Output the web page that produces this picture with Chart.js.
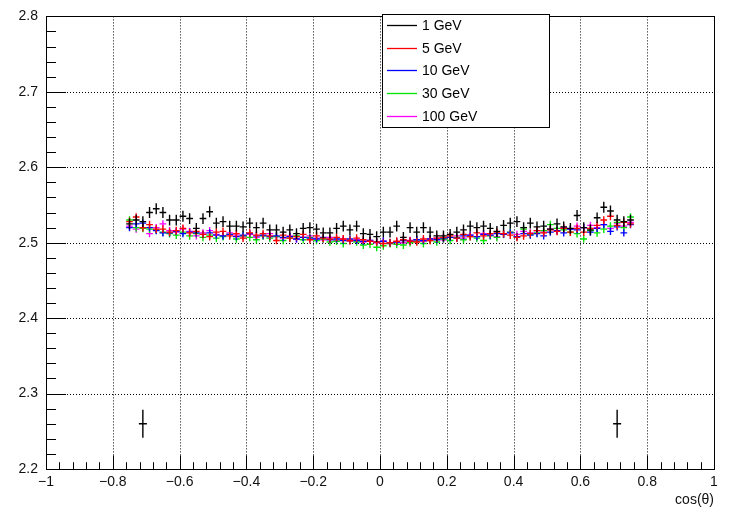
<!DOCTYPE html>
<html lang="en">
<head>
    <meta charset="UTF-8">
    <title>cos(θ) profile</title>
    <script src="https://cdn.jsdelivr.net/npm/chart.js"></script>
    <style>
        body {
            margin: 0;
            background: #ffffff;
        }
        #profile {
            display: block;
        }
    </style>
</head>
<body>
    <canvas id="profile" width="729" height="509"></canvas>

    <script>
        // bin centres in cos(theta)
        const cosBins = [
            -0.75, -0.73, -0.71, -0.69, -0.67, -0.65, -0.63, -0.61, -0.59, -0.57,
            -0.55, -0.53, -0.51, -0.49, -0.47, -0.45, -0.43, -0.41, -0.39, -0.37,
            -0.35, -0.33, -0.31, -0.29, -0.27, -0.25, -0.23, -0.21, -0.19, -0.17,
            -0.15, -0.13, -0.11, -0.09, -0.07, -0.05, -0.03, -0.01, 0.01, 0.03,
            0.05, 0.07, 0.09, 0.11, 0.13, 0.15, 0.17, 0.19, 0.21, 0.23,
            0.25, 0.27, 0.29, 0.31, 0.33, 0.35, 0.37, 0.39, 0.41, 0.43,
            0.45, 0.47, 0.49, 0.51, 0.53, 0.55, 0.57, 0.59, 0.61, 0.63,
            0.65, 0.67, 0.69, 0.71, 0.73, 0.75
        ];

        const seriesLabels = ['1 GeV', '5 GeV', '10 GeV', '30 GeV', '100 GeV'];
        const seriesColors = ['#000000', '#ff0000', '#0000ff', '#00e600', '#ff00ff'];
        const binHalfWidth = 0.01;
        const seriesYErr = [0.0072, 0.0052, 0.0048, 0.0052, 0.0048];

        const values1GeV = [
            2.525, 2.530, 2.528, 2.540, 2.545, 2.540, 2.530, 2.530, 2.535, 2.532,
            2.519, 2.532, 2.541, 2.526, 2.528, 2.522, 2.522, 2.521, 2.526, 2.520,
            2.526, 2.517, 2.517, 2.514, 2.517, 2.512, 2.519, 2.520, 2.518, 2.513,
            2.513, 2.519, 2.522, 2.517, 2.522, 2.512, 2.511, 2.508, 2.514, 2.514,
            2.522, 2.507, 2.520, 2.514, 2.520, 2.514, 2.509, 2.509, 2.511, 2.514,
            2.517, 2.522, 2.520, 2.522, 2.519, 2.515, 2.523, 2.526, 2.528, 2.520,
            2.526, 2.521, 2.522, 2.518, 2.525, 2.521, 2.519, 2.536, 2.520, 2.517,
            2.533, 2.547, 2.542, 2.530, 2.528, 2.530
        ];
        const values5GeV = [
            2.528, 2.534, 2.520, 2.524, 2.518, 2.518, 2.514, 2.516, 2.519, 2.513,
            2.515, 2.511, 2.508, 2.514, 2.515, 2.509, 2.512, 2.506, 2.513, 2.510,
            2.512, 2.509, 2.503, 2.510, 2.506, 2.508, 2.511, 2.504, 2.509, 2.506,
            2.505, 2.507, 2.505, 2.503, 2.506, 2.504, 2.502, 2.501, 2.499, 2.500,
            2.502, 2.504, 2.502, 2.501, 2.505, 2.503, 2.506, 2.507, 2.509, 2.506,
            2.511, 2.508, 2.513, 2.509, 2.512, 2.514, 2.512, 2.510, 2.507, 2.509,
            2.512, 2.516, 2.513, 2.517, 2.515, 2.519, 2.514, 2.519, 2.514, 2.519,
            2.523, 2.530, 2.535, 2.523, 2.527, 2.525
        ];
        const values10GeV = [
            2.520, 2.525, 2.526, 2.520, 2.516, 2.513, 2.513, 2.515, 2.512, 2.514,
            2.513, 2.511, 2.513, 2.510, 2.509, 2.511, 2.508, 2.510, 2.512, 2.509,
            2.510, 2.508, 2.509, 2.507, 2.508, 2.505, 2.507, 2.506, 2.505, 2.507,
            2.504, 2.505, 2.503, 2.505, 2.503, 2.502, 2.503, 2.501, 2.502, 2.500,
            2.501, 2.503, 2.502, 2.504, 2.503, 2.505, 2.504, 2.506, 2.507, 2.506,
            2.509, 2.510, 2.508, 2.511, 2.510, 2.512, 2.511, 2.513, 2.508, 2.512,
            2.510, 2.512, 2.509, 2.514, 2.516, 2.513, 2.518, 2.517, 2.520, 2.514,
            2.519, 2.524, 2.515, 2.521, 2.513, 2.524
        ];
        const values30GeV = [
            2.530, 2.520, 2.519, 2.518, 2.517, 2.514, 2.512, 2.510, 2.514, 2.509,
            2.512, 2.507, 2.510, 2.506, 2.508, 2.511, 2.505, 2.509, 2.507, 2.504,
            2.509, 2.506, 2.508, 2.503, 2.506, 2.509, 2.504, 2.507, 2.503, 2.505,
            2.501, 2.502, 2.499, 2.503, 2.501, 2.497, 2.498, 2.494, 2.496, 2.499,
            2.498, 2.497, 2.500, 2.502, 2.499, 2.503, 2.501, 2.505, 2.503, 2.507,
            2.504, 2.508, 2.506, 2.503, 2.509, 2.507, 2.511, 2.514, 2.508, 2.518,
            2.511, 2.513, 2.516, 2.524, 2.519, 2.517, 2.514, 2.512, 2.505, 2.516,
            2.513, 2.518, 2.522, 2.527, 2.520, 2.534
        ];
        const values100GeV = [
            2.522, 2.518, 2.520, 2.512, 2.520, 2.525, 2.516, 2.514, 2.518, 2.515,
            2.509, 2.513, 2.516, 2.511, 2.509, 2.513, 2.510, 2.508, 2.511, 2.507,
            2.509, 2.512, 2.508, 2.506, 2.509, 2.505, 2.507, 2.509, 2.506, 2.504,
            2.507, 2.503, 2.505, 2.502, 2.504, 2.501, 2.503, 2.500, 2.502, 2.499,
            2.501, 2.500, 2.503, 2.504, 2.502, 2.505, 2.506, 2.504, 2.507, 2.509,
            2.506, 2.510, 2.508, 2.512, 2.510, 2.508, 2.512, 2.514, 2.511, 2.515,
            2.513, 2.516, 2.514, 2.518, 2.516, 2.520, 2.518, 2.522, 2.520, 2.523,
            2.520, 2.524, 2.519, 2.526, 2.522, 2.527
        ];
        const seriesValues = [values1GeV, values5GeV, values10GeV, values30GeV, values100GeV];

        // the two lone black points low on the pad
        const loneX = [-0.71, 0.71];
        const loneY = [2.26, 2.26];
        const loneXErr = 0.012;
        const loneYErr = 0.0185;

        const FONT = '"Liberation Sans", Arial, sans-serif';

        function crisp(v) {
            return Math.round(v) + 0.5;
        }

        const rootStyle = {
            id: 'rootStyle',
            beforeDatasetsDraw(chart) {
                const ctx = chart.ctx;
                const area = chart.chartArea;
                const xs = chart.scales.x;
                const ys = chart.scales.y;
                ctx.save();
                ctx.strokeStyle = '#000000';
                ctx.lineWidth = 1;
                ctx.setLineDash([1, 2]);
                xs.ticks.forEach(t => {
                    if (Math.abs(t.value) > 0.999) return;
                    const px = crisp(xs.getPixelForValue(t.value));
                    ctx.beginPath();
                    ctx.moveTo(px, area.top);
                    ctx.lineTo(px, area.bottom);
                    ctx.stroke();
                });
                ys.ticks.forEach(t => {
                    if (t.value < 2.201 || t.value > 2.799) return;
                    const py = crisp(ys.getPixelForValue(t.value));
                    ctx.beginPath();
                    ctx.moveTo(area.left, py);
                    ctx.lineTo(area.right, py);
                    ctx.stroke();
                });
                ctx.restore();
            },
            afterDatasetDraw(chart, args) {
                const ctx = chart.ctx;
                const ds = chart.data.datasets[args.index];
                const meta = args.meta;
                const xs = chart.scales.x;
                const ys = chart.scales.y;
                const area = chart.chartArea;
                ctx.save();
                ctx.beginPath();
                ctx.rect(area.left, area.top, area.right - area.left, area.bottom - area.top);
                ctx.clip();
                ctx.strokeStyle = ds.borderColor;
                ctx.lineWidth = 1.4;
                ds.data.forEach((p, j) => {
                    const el = meta.data[j];
                    const x0 = xs.getPixelForValue(p.x - ds.xErr);
                    const x1 = xs.getPixelForValue(p.x + ds.xErr);
                    const y0 = ys.getPixelForValue(p.y - ds.yErr);
                    const y1 = ys.getPixelForValue(p.y + ds.yErr);
                    ctx.beginPath();
                    ctx.moveTo(x0, el.y);
                    ctx.lineTo(x1, el.y);
                    ctx.moveTo(el.x, y0);
                    ctx.lineTo(el.x, y1);
                    ctx.stroke();
                });
                ctx.restore();
            },
            afterDraw(chart) {
                const ctx = chart.ctx;
                const area = chart.chartArea;
                const xs = chart.scales.x;
                const ys = chart.scales.y;
                const plotH = area.bottom - area.top;
                const plotW = area.right - area.left;
                ctx.save();
                ctx.strokeStyle = '#000000';
                ctx.lineWidth = 1;
                // frame
                ctx.strokeRect(crisp(area.left), crisp(area.top),
                    Math.round(plotW), Math.round(plotH));

                // x ticks, inside the frame
                ctx.beginPath();
                for (let k = 0; k <= 50; k++) {
                    const v = -1 + k * 0.04;
                    const px = crisp(xs.getPixelForValue(v));
                    const len = (k % 5 === 0) ? plotH * 0.03 : plotH * 0.015;
                    ctx.moveTo(px, area.bottom);
                    ctx.lineTo(px, area.bottom - len);
                }
                // y ticks
                for (let k = 0; k <= 30; k++) {
                    const v = 2.2 + k * 0.02;
                    const py = crisp(ys.getPixelForValue(v));
                    const len = (k % 5 === 0) ? plotW * 0.03 : plotW * 0.015;
                    ctx.moveTo(area.left, py);
                    ctx.lineTo(area.left + len, py);
                }
                ctx.stroke();

                // legend box
                const lx = 382, ly = 14, lw = 167, lh = 113;
                ctx.fillStyle = '#ffffff';
                ctx.fillRect(lx, ly, lw, lh);
                ctx.strokeRect(lx + 0.5, ly + 0.5, lw, lh);
                ctx.font = '14px ' + FONT;
                ctx.textBaseline = 'middle';
                ctx.textAlign = 'left';
                for (let i = 0; i < seriesLabels.length; i++) {
                    const rowY = ly + 11 + i * 22.7;
                    ctx.strokeStyle = seriesColors[i];
                    ctx.lineWidth = 1.3;
                    ctx.beginPath();
                    ctx.moveTo(lx + 5, crisp(rowY));
                    ctx.lineTo(lx + 35, crisp(rowY));
                    ctx.stroke();
                    ctx.fillStyle = '#000000';
                    ctx.fillText(seriesLabels[i], lx + 40, rowY + 1);
                }
                ctx.restore();
            }
        };

        function xLabel(v) {
            if (Math.abs(v) < 1e-9) return '0';
            if (Math.abs(Math.abs(v) - 1) < 1e-9) return (v < 0 ? '\u2212' : '') + '1';
            return v.toFixed(1).replace('-', '\u2212');
        }

        const datasets = seriesLabels.map((label, i) => ({
            label: label,
            data: cosBins.map((c, j) => ({ x: c, y: seriesValues[i][j] })),
            borderColor: seriesColors[i],
            backgroundColor: seriesColors[i],
            xErr: binHalfWidth,
            yErr: seriesYErr[i],
            pointRadius: 0,
            showLine: false
        }));
        datasets.push({
            label: 'lone',
            data: loneX.map((x, j) => ({ x: x, y: loneY[j] })),
            borderColor: '#000000',
            backgroundColor: '#000000',
            xErr: loneXErr,
            yErr: loneYErr,
            pointRadius: 0,
            showLine: false
        });

        const ctx = document.getElementById('profile').getContext('2d');
        new Chart(ctx, {
            type: 'scatter',
            data: { datasets: datasets },
            options: {
                responsive: false,
                animation: false,
                layout: { padding: { top: 14, right: 15, left: 0, bottom: 0 } },
                plugins: {
                    legend: { display: false },
                    tooltip: { enabled: false }
                },
                scales: {
                    x: {
                        type: 'linear',
                        min: -1,
                        max: 1,
                        border: { display: false },
                        grid: { display: false, drawTicks: false },
                        ticks: {
                            stepSize: 0.2,
                            autoSkip: false,
                            maxRotation: 0,
                            padding: 5,
                            color: '#111111',
                            font: { family: FONT, size: 14 },
                            callback: v => xLabel(v)
                        },
                        title: {
                            display: true,
                            text: 'cos(θ)',
                            align: 'end',
                            color: '#111111',
                            font: { family: FONT, size: 14 },
                            padding: { top: 4, bottom: 0 }
                        },
                        afterFit: s => { s.height = 40; }
                    },
                    y: {
                        type: 'linear',
                        min: 2.2,
                        max: 2.8,
                        border: { display: false },
                        grid: { display: false, drawTicks: false },
                        ticks: {
                            stepSize: 0.1,
                            autoSkip: false,
                            padding: 8,
                            color: '#111111',
                            font: { family: FONT, size: 14 },
                            callback: v => v.toFixed(1)
                        },
                        afterFit: s => { s.width = 46; }
                    }
                }
            },
            plugins: [rootStyle]
        });
    </script>
</body>
</html>
